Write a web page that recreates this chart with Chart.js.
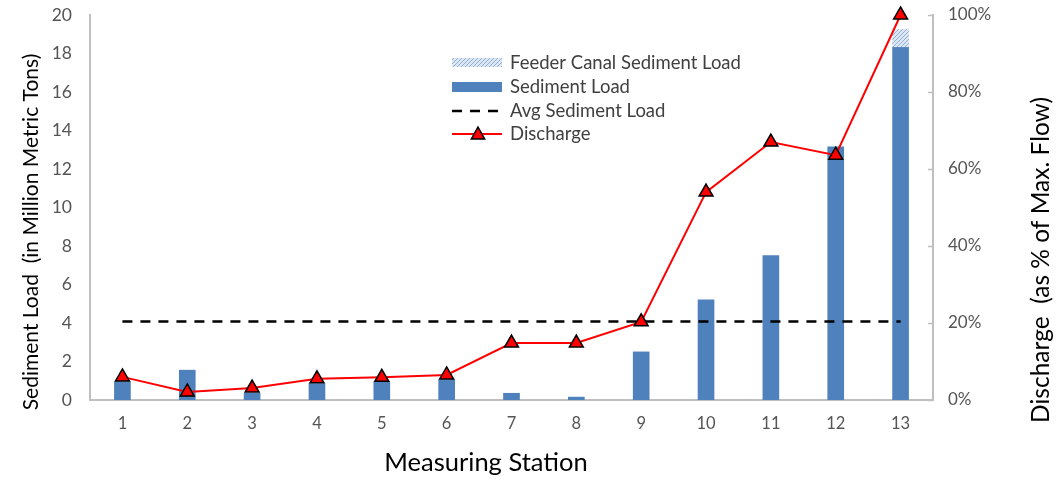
<!DOCTYPE html>
<html>
<head>
<meta charset="utf-8">
<script src="https://cdn.jsdelivr.net/npm/chart.js@4.4.1/dist/chart.umd.min.js"></script>
<style>
  html, body { margin: 0; padding: 0; background: #ffffff; }
  #wrap { width: 1056px; height: 481px; position: relative; }
</style>
</head>
<body>
<div id="wrap"><canvas id="chart" width="1056" height="481"></canvas></div>
<script>
// Measuring stations along the river
const stations = ['1', '2', '3', '4', '5', '6', '7', '8', '9', '10', '11', '12', '13'];
// Sediment load per station (million metric tons)
const sedimentLoad = [0.95, 1.55, 0.35, 0.85, 0.95, 1.05, 0.35, 0.15, 2.5, 5.2, 7.5, 13.15, 18.35];
// Extra load brought in by the feeder canal (million metric tons)
const feederLoad = [0, 0, 0, 0, 0, 0, 0, 0, 0, 0, 0, 0, 0.9];
// Average sediment load across stations
const avgSedimentLoad = 4.08;
// Discharge as % of maximum flow
const dischargePct = [6.0, 2.1, 3.1, 5.5, 5.9, 6.5, 14.8, 14.8, 20.3, 54.0, 67.0, 63.6, 100];
// Axis ranges / steps
const loadAxis = { min: 0, max: 20, step: 2 };
const dischargeAxis = { min: 0, max: 100, step: 20 };

const FONT = 'Lato, "Open Sans", sans-serif';
const BLUE = '#4f81bd';
const TICK_COLOR = '#555555';
const AXIS_COLOR = '#bfbfbf';

// light blue diagonal hatch for the feeder canal share
function makeHatch() {
  const c = document.createElement('canvas');
  c.width = 4; c.height = 4;
  const g = c.getContext('2d');
  g.fillStyle = '#dde7f3';
  g.fillRect(0, 0, 4, 4);
  g.strokeStyle = '#8fb0d8';
  g.lineWidth = 1;
  g.beginPath();
  g.moveTo(0, 4); g.lineTo(4, 0);
  g.moveTo(-1, 1); g.lineTo(1, -1);
  g.moveTo(3, 5); g.lineTo(5, 3);
  g.stroke();
  return g.createPattern(c, 'repeat');
}
const ctx0 = document.getElementById('chart').getContext('2d');
const hatch = makeHatch();

const feederBars = sedimentLoad.map((v, i) => feederLoad[i] ? [v, v + feederLoad[i]] : null);
const avgLine = stations.map(() => avgSedimentLoad);

// axis titles, inward tick marks on the discharge axis and the in-plot legend
const decorations = {
  id: 'decorations',
  beforeDatasetsDraw(chart) {
    const c = chart.ctx;
    const s = chart.scales.y2;
    c.save();
    c.strokeStyle = AXIS_COLOR;
    c.lineWidth = 1.5;
    c.beginPath();
    s.ticks.forEach(t => {
      const y = Math.round(s.getPixelForValue(t.value)) + 0.5;
      c.moveTo(s.left - 5, y);
      c.lineTo(s.left, y);
    });
    c.stroke();
    c.restore();
  },
  afterDraw(chart) {
    const c = chart.ctx;
    c.save();
    c.fillStyle = '#000000';
    c.textAlign = 'center';
    c.textBaseline = 'middle';
    // x title
    c.font = '25.5px ' + FONT;
    c.fillText('Measuring Station', 486, 463);
    // left title
    c.font = '21px ' + FONT;
    c.save();
    c.translate(31, 232);
    c.rotate(-Math.PI / 2);
    c.fillText('Sediment Load  (in Million Metric Tons)', 0, 0);
    c.restore();
    // right title
    c.font = '24.5px ' + FONT;
    c.save();
    c.translate(1041, 260);
    c.rotate(-Math.PI / 2);
    c.fillText('Discharge  (as % of Max. Flow)', 0, 0);
    c.restore();

    // legend
    const x0 = 452, x1 = 502, tx = 510;
    const rows = [63, 87, 111, 134];
    c.fillStyle = hatch;
    c.fillRect(x0, rows[0] - 5, x1 - x0, 9);
    c.fillStyle = BLUE;
    c.fillRect(x0, rows[1] - 5, x1 - x0, 10);
    c.strokeStyle = '#000000';
    c.lineWidth = 2.5;
    c.setLineDash([10, 8]);
    c.beginPath(); c.moveTo(x0, rows[2]); c.lineTo(x1, rows[2]); c.stroke();
    c.setLineDash([]);
    c.strokeStyle = '#ff0000';
    c.lineWidth = 2;
    c.beginPath(); c.moveTo(x0, rows[3]); c.lineTo(x1, rows[3]); c.stroke();
    // triangle marker
    const mx = 478, my = rows[3], r = 7;
    c.beginPath();
    c.moveTo(mx, my - r);
    c.lineTo(mx + r * 0.95, my + r * 0.7);
    c.lineTo(mx - r * 0.95, my + r * 0.7);
    c.closePath();
    c.fillStyle = '#ff0000';
    c.fill();
    c.strokeStyle = '#000000';
    c.lineWidth = 1.5;
    c.stroke();

    c.fillStyle = '#404040';
    c.textAlign = 'left';
    c.font = '18.5px ' + FONT;
    const labels = ['Feeder Canal Sediment Load', 'Sediment Load', 'Avg Sediment Load', 'Discharge'];
    labels.forEach((t, i) => c.fillText(t, tx, rows[i]));
    c.restore();
  }
};

// fixed axis boxes so the plot area sits at 90..933 x 15..400
const fixVertical = w => s => { s.width = w; s.paddingTop = 0; s.paddingBottom = 0; };

new Chart(ctx0, {
  data: {
    labels: stations,
    datasets: [
      {
        type: 'line',
        label: 'Discharge',
        data: dischargePct,
        yAxisID: 'y2',
        borderColor: '#ff0000',
        borderWidth: 2,
        pointStyle: 'triangle',
        pointRadius: 8,
        pointBackgroundColor: '#ff0000',
        pointBorderColor: '#000000',
        pointBorderWidth: 1.5,
        tension: 0,
        clip: false,
        order: 0
      },
      {
        type: 'line',
        label: 'Avg Sediment Load',
        data: avgLine,
        yAxisID: 'y',
        borderColor: '#000000',
        borderWidth: 2.5,
        borderDash: [10, 8],
        pointRadius: 0,
        order: 1
      },
      {
        type: 'bar',
        label: 'Feeder Canal Sediment Load',
        data: feederBars,
        yAxisID: 'y',
        backgroundColor: hatch,
        borderWidth: 0,
        barThickness: 16,
        grouped: false,
        order: 2
      },
      {
        type: 'bar',
        label: 'Sediment Load',
        data: sedimentLoad,
        yAxisID: 'y',
        backgroundColor: BLUE,
        borderWidth: 0,
        barThickness: 16,
        grouped: false,
        order: 3
      }
    ]
  },
  options: {
    responsive: false,
    animation: false,
    layout: { padding: { top: 15, left: 0, right: 0, bottom: 0 } },
    plugins: {
      legend: { display: false },
      tooltip: { enabled: false }
    },
    scales: {
      x: {
        offset: true,
        grid: { display: false, drawTicks: false },
        border: { color: AXIS_COLOR, width: 2 },
        ticks: { color: TICK_COLOR, font: { family: FONT, size: 16.5 }, padding: 14, maxRotation: 0 },
        afterFit: s => { s.height = 81; s.paddingLeft = 0; s.paddingRight = 0; }
      },
      y: {
        position: 'left',
        min: loadAxis.min, max: loadAxis.max,
        grid: { display: false, drawTicks: false },
        border: { color: AXIS_COLOR, width: 2 },
        ticks: { stepSize: loadAxis.step, color: TICK_COLOR, font: { family: FONT, size: 17.5 }, padding: 18 },
        afterFit: fixVertical(90)
      },
      y2: {
        position: 'right',
        min: dischargeAxis.min, max: dischargeAxis.max,
        grid: { display: false, drawTicks: false },
        border: { color: AXIS_COLOR, width: 2 },
        ticks: { stepSize: dischargeAxis.step, color: TICK_COLOR, font: { family: FONT, size: 17 }, padding: 15,
                 callback: v => v + '%' },
        afterFit: fixVertical(123)
      }
    }
  },
  plugins: [decorations]
});
</script>
</body>
</html>
